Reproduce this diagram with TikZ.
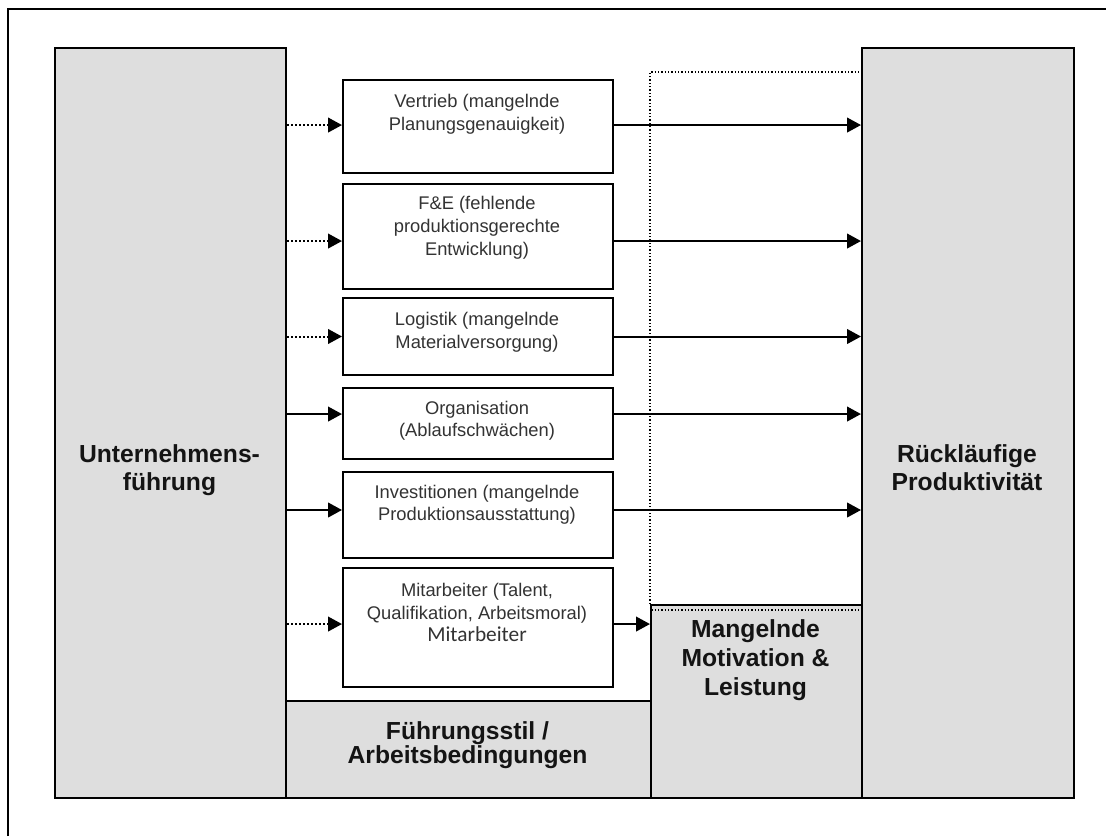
\documentclass[tikz,border=0pt]{standalone}
\usepackage{fontspec}
\setmainfont{Liberation Sans}
\newfontfamily\calfont{Carlito}
\usetikzlibrary{arrows.meta}
\definecolor{boxGrau}{HTML}{DEDEDE}
\definecolor{textGrau}{HTML}{333333}

\begin{document}
\begin{tikzpicture}[x=0.75pt, y=-0.75pt,
    graubox/.style={draw=black, line width=1.5pt, fill=boxGrau, anchor=north west, inner sep=0pt},
    ursache/.style={draw=black, line width=1.5pt, fill=white, anchor=north west, minimum width=202.5pt, inner sep=0pt},
    klein/.style={font=\fontsize{13.75}{17}\selectfont, text=textGrau, align=center, inner sep=0pt, anchor=base},
    fett/.style={font=\fontsize{18.5}{20.5}\selectfont\bfseries, text=black!92, align=center, inner sep=0pt, anchor=base},
    pfeil/.style={line width=1.5pt, -{Triangle[length=10.5pt, width=11pt]}},
    pfeilp/.style={pfeil, dash pattern=on 1.5pt off 1.5pt},
    feinp/.style={line width=1.1pt, dash pattern=on 1.1pt off 1.4pt}]
    \useasboundingbox (0,0) rectangle (1106,836);
    % frame, cut off at right and bottom
    \draw[line width=2.2pt] (8,836) -- (8,9) -- (1106,9);
    % grey blocks
    \node[graubox, minimum width=173.25pt, minimum height=562.5pt] (fuehrung) at (54,47) {};
    \node[graubox, minimum width=159pt, minimum height=562.5pt] (produktiv) at (861,47) {};
    \node[graubox, minimum width=273.75pt, minimum height=72.75pt] (stil) at (285,700) {};
    \node[graubox, minimum width=158.25pt, minimum height=144.75pt] (motiv) at (650,604) {};
    % (base = last line)
    \node[fett] (fuehrung-t) at (169.5,490) {Unternehmens-\\führung};
    \node[fett] (produktiv-t) at (967,490) {Rückläufige\\Produktivität};
    \node[fett, font=\fontsize{18.5}{17.5}\selectfont\bfseries] (stil-t) at (467.5,763) {Führungsstil /\\Arbeitsbedingungen};
    \node[fett, font=\fontsize{18.5}{21.75}\selectfont\bfseries] (motiv-t) at (755.5,695) {Mangelnde\\Motivation \&\\Leistung};
    % dotted link
    \coordinate (ecke) at (650,72);
    \draw[feinp] (motiv.north west) -- (ecke) -- (produktiv.west |- ecke);
    \draw[feinp] ([xshift=1pt, yshift=-4.5pt]motiv.north west) -- ([xshift=-1pt, yshift=-4.5pt]motiv.north east);
    % causes
    \node[ursache, minimum height=69.75pt] (vertrieb) at (342,79) {};
    \node[ursache, minimum height=78.75pt] (fe) at (342,183) {};
    \node[ursache, minimum height=57.75pt] (logistik) at (342,297) {};
    \node[ursache, minimum height=53.25pt] (organisation) at (342,387) {};
    \node[ursache, minimum height=64.5pt] (invest) at (342,471) {};
    \node[ursache, minimum height=89.25pt] (mitarbeiter) at (342,567) {};
    \node[klein] (vertrieb-t) at (477,130) {Vertrieb (mangelnde\\Planungsgenauigkeit)};
    \node[klein] (fe-t) at (477,255) {F\&E (fehlende\\produktionsgerechte\\Entwicklung)};
    \node[klein] (logistik-t) at (477,348) {Logistik (mangelnde\\Materialversorgung)};
    \node[klein] (organisation-t) at (477,436.7) {Organisation\\(Ablaufschwächen)};
    \node[klein] (invest-t) at (477,520.7) {Investitionen (mangelnde\\Produktionsausstattung)};
    \node[klein] (mitarbeiter-t) at (477,641.7) {Mitarbeiter (Talent,\\Qualifikation, Arbeitsmoral)\\{\calfont\fontsize{16}{17}\selectfont Mitarbeiter}};
    % arrows
    \foreach \n/\s/\art in {vertrieb/1.1pt/pfeilp, fe/-3.4pt/pfeilp, logistik/0pt/pfeilp,
        organisation/7.1pt/pfeil, invest/3.75pt/pfeil, mitarbeiter/2.6pt/pfeilp} {
      \coordinate (\n-l) at ([yshift=\s]\n.west);
      \coordinate (\n-r) at ([yshift=\s]\n.east);
      \draw[\art] (fuehrung.east |- \n-l) -- (\n-l);
    }
    \foreach \n in {vertrieb, fe, logistik, organisation, invest}
      \draw[pfeil] (\n-r) -- (produktiv.west |- \n-r);
    \draw[pfeil] (mitarbeiter-r) -- (motiv.west |- mitarbeiter-r);
\end{tikzpicture}
\end{document}
